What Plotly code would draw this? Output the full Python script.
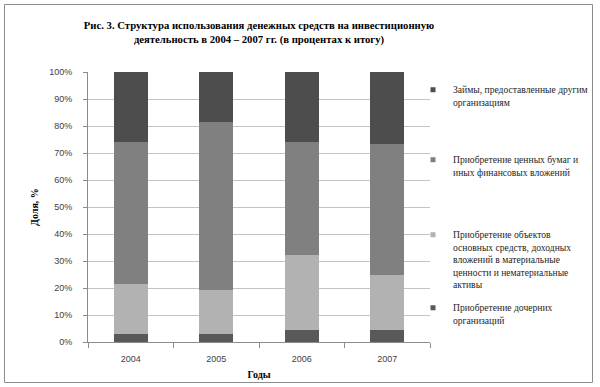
import plotly.graph_objects as go

years = ["2004", "2005", "2006", "2007"]
names = [
    "Приобретение дочерних<br>организаций",
    "Приобретение объектов<br>основных средств, доходных<br>вложений в материальные<br>ценности и нематериальные<br>активы",
    "Приобретение ценных бумаг и<br>иных финансовых вложений",
    "Займы, предоставленные другим<br>организациям",
]
subsidiaries = [2.9, 3.1, 4.5, 4.5]
fixed_assets = [18.5, 16.1, 27.8, 20.5]
securities = [52.6, 62.3, 41.7, 48.3]
loans = [26.0, 18.5, 26.0, 26.7]
series = [subsidiaries, fixed_assets, securities, loans]
colors = ["#595959", "#b2b2b2", "#808080", "#4d4d4d"]
legend_ids = ["legend4", "legend3", "legend2", "legend"]
legend_top_px = [295, 222, 147, 77]

L, R, T, B = 88, 430, 72, 342
W, H = 600, 387
pw, ph = R - L, B - T

fig = go.Figure()
for vals, nm, col, lg in zip(series, names, colors, legend_ids):
    fig.add_trace(go.Bar(x=years, y=vals, name=nm, marker=dict(color=col, line=dict(width=0)),
                         showlegend=False))
    # legend entry with a small square key, as in the original
    fig.add_trace(go.Scatter(x=[None], y=[None], mode="markers", name=nm, legend=lg,
                             marker=dict(symbol="square", size=5, color=col), showlegend=True))

legend_font = dict(family="Liberation Serif", size=9.6, color="#262626")
leg_x = (413 - L) / pw
for lg, top in zip(legend_ids, legend_top_px):
    fig.update_layout(**{lg: dict(x=leg_x, xanchor="left", y=(B - top) / ph, yanchor="top",
                                 font=legend_font, valign="top", itemwidth=30, visible=True,
                                 bgcolor="rgba(0,0,0,0)", borderwidth=0)})

fig.update_layout(
    width=W, height=H,
    margin=dict(l=L, r=W - R, t=T, b=H - B, autoexpand=False),
    paper_bgcolor="white", plot_bgcolor="white",
    barmode="stack", bargap=0.6, showlegend=True,
    title=dict(text="<b>Рис. 3. Структура использования денежных средств на инвестиционную<br>деятельность в 2004 – 2007 гг. (в процентах к итогу)</b>",
               x=0.5, xref="paper", xanchor="center", yref="container",
               y=1 - 29 / H, yanchor="middle",
               font=dict(family="Liberation Serif", size=10.7, color="black")),
    xaxis=dict(type="category", showline=True, linecolor="#8c8c8c", linewidth=1,
               ticks="outside", tickson="boundaries", ticklen=5, tickcolor="#8c8c8c",
               ticklabelstandoff=8,
               tickfont=dict(family="Liberation Sans", size=9, color="#404040"),
               title=dict(text="<b>Годы</b>", standoff=8,
                          font=dict(family="Liberation Serif", size=10, color="black"))),
    yaxis=dict(range=[0, 100], dtick=10, ticksuffix="%", showgrid=True, gridcolor="#c4c4c4",
               showline=True, linecolor="#8c8c8c", linewidth=1, ticks="outside", ticklen=4,
               tickcolor="#8c8c8c", zeroline=False, ticklabelstandoff=9,
               tickfont=dict(family="Liberation Sans", size=9, color="#404040"),
               title=dict(text="<b>Доля, %</b>", standoff=8,
                          font=dict(family="Liberation Serif", size=10, color="black"))),
    shapes=[dict(type="rect", xref="paper", yref="paper",
                 x0=(4.5 - L) / pw, x1=(592.5 - L) / pw,
                 y0=(B - 382.5) / ph, y1=(B - 4.5) / ph,
                 line=dict(color="#8c8c8c", width=1), fillcolor="rgba(0,0,0,0)", layer="below")],
)

fig.write_html("out.html", config={"displayModeBar": False},
               post_script="document.body.style.margin='0';")
